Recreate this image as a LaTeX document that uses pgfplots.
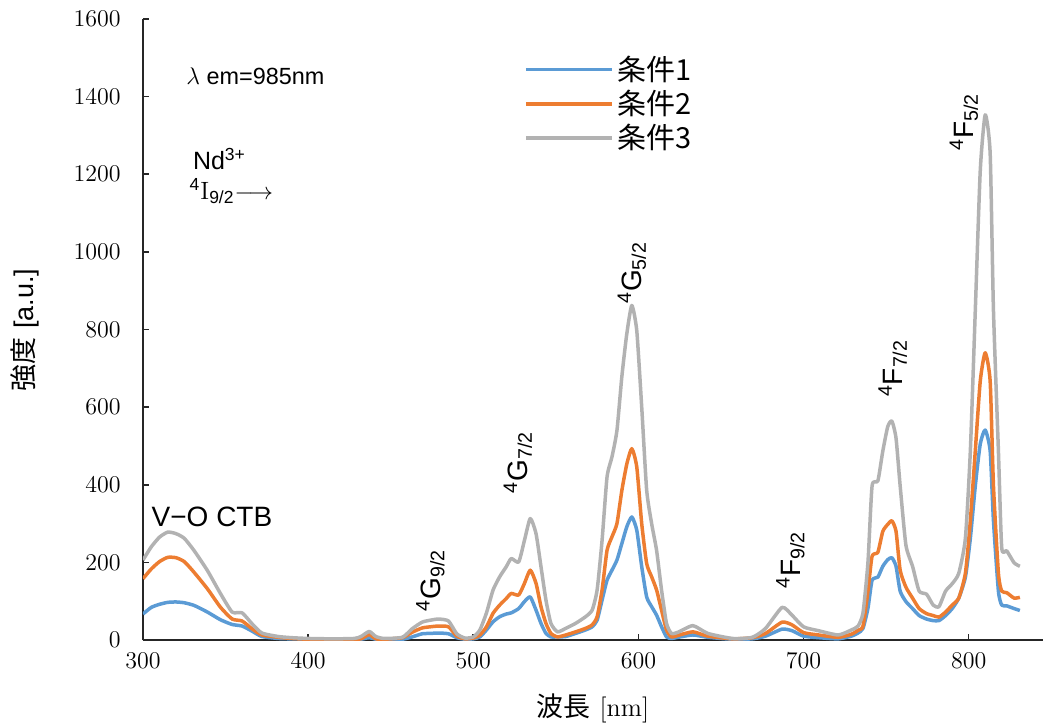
\documentclass[border=0pt]{standalone}
\usepackage{fontspec}
\setsansfont{Liberation Sans}
\newfontfamily\jp{Noto Sans CJK JP}
\usepackage{pgfplots}
\pgfplotsset{compat=1.18}
\usepackage{pgfplotstable}

\definecolor{c1}{RGB}{91,155,213}
\definecolor{c2}{RGB}{237,125,49}
\definecolor{c3}{RGB}{178,178,178}

% excitation spectra: wavelength [nm], condition 1, 2, 3
\pgfplotstableread{
x      b    o    g
300    67   158  206
305    84   183  240
310    92   202  265
315    97   213  278
320    98   212  274
325    96   202  262
331    89   174  230
339    72   132  179
347    52   84   119
354    40   54   72
360    36   49   70
366    23   29   42
372    9    13   18
382    4    7    9
390    3    4    6
400    2    2    4
415    1    1    3
428    2    2    4
432    2    3    9
437    6    14   22
441    2    3    9
446    1    2    4
457    2    6    7
463    8    20   29
469    16   31   46
474    17   34   51
479    18   36   54
485    16   34   49
490    6    10   16
495    2    3    5
500    3    5    8
504    8    13   26
508    26   34   70
512    47   69   129
516    60   90   163
520    67   107  189
523    70   120  210
527.5  81   116  201
531    99   146  257
534.5  111  180  313
538    77   146  274
541    43   86   189
544    17   43   103
547    8    17   43
551    8    8    21
556    9    13   30
562    17   21   43
568    26   30   60
572    34   39   77
575    51   60   129
578    103  129  257
581    154  231  420
584    180  266  472
587    206  300  540
590    249  386  680
593    292  454  790
596    317  493  862
599    283  446  797
602    189  300  600
605    111  197  386
608    86   163  300
611    64   129  231
614    34   77   129
617    8    26   43
620    4    8    17
624    7    12   20
633    13   21   37
642    7    10   17
657    2    3    4
669    3    6    7
677    10   17   30
687    28   46   84
693    24   39   64
700    10   19   34
709    6    13   24
721    3    7    13
729    10   15   26
733    18   25   36
736    30   36   70
739    82   126  200
741.5  154  216  397
745    162  226  410
748    190  280  487
751    207  298  550
753.5  212  307  564
756    190  280  520
758.5  126  180  397
762    99   136  244
766    81   108  190
770    63   81   126
774.5  54   68   118
778.5  50   63   90
782    50   59   86
786    63   72   126
790    81   90   145
794    108  108  172
798    162  172  262
801    262  307  487
804    397  487  849
807    505  667  1209
810    541  740  1353
813    487  667  1254
815    307  397  849
818    126  172  487
820    90   126  238
823    88   122  230
827.5  81   108  199
831    76   110  190
}\spec

\begin{document}
\begin{tikzpicture}
\begin{axis}[
  scale only axis, width=450pt, height=310.5pt,
  xmin=300, xmax=845, ymin=0, ymax=1600,
  axis x line=bottom, axis y line=left,
  axis line style={-, line width=1.1pt, color=black!85},
  tick align=inside, major tick length=3pt,
  tick style={line width=0.8pt, color=black!85},
  xtick={300,400,...,800}, ytick={0,200,...,1600},
  /pgf/number format/1000 sep={},
  ticklabel style={font=\fontsize{12.5}{14}\selectfont, inner sep=1pt},
  xticklabel style={yshift=-5.5pt},
  yticklabel style={xshift=-10pt},
  xlabel={{\jp 波長} {\fontsize{13}{15}\selectfont[nm]}},
  ylabel={{\jp 強度} {\sffamily [a.u.]}},
  label style={font=\fontsize{13.5}{15}\selectfont},
  xlabel style={at={(rel axis cs:0.5,-0.1095)}, anchor=center},
  ylabel style={at={(rel axis cs:-0.131,0.499)}, anchor=center},
  legend style={draw=none, fill=none, at={(rel axis cs:0.423,0.948)},
    anchor=north west, font=\jp\fontsize{14.5}{16}\selectfont,
    row sep=-0.5pt, inner sep=0pt},
  legend cell align=left,
  legend image code/.code={\draw[#1, line width=1.75pt] (0pt,0pt) -- (43pt,0pt);},
  every axis plot/.append style={line width=1.75pt, line join=round, mark=none, smooth, tension=0.35},
]
\addplot[c1] table[x=x, y=b] {\spec};
\addplot[c2] table[x=x, y=o] {\spec};
\addplot[c3] table[x=x, y=g] {\spec};
\legend{条件1, 条件2, 条件3}

\coordinate (bl) at (rel axis cs:0,0);
\coordinate (tr) at (rel axis cs:1,1);

\node[anchor=west, font=\sffamily\fontsize{11.7}{13}\selectfont] at (axis cs:322,1453) {$\lambda$ em=985nm};
\node[anchor=west, font=\sffamily\fontsize{12.5}{14}\selectfont] at (axis cs:326,1240) {Nd\textsuperscript{3+}};
\node[anchor=west, font=\sffamily\fontsize{12.5}{14}\selectfont] at (axis cs:324,1157) {\textsuperscript{4}{\rmfamily I}\textsubscript{9/2}$\longrightarrow$};
\node[anchor=west, font=\sffamily\fontsize{14}{16}\selectfont] at (axis cs:301,316) {V−O CTB};

\begin{scope}[every node/.style={rotate=90, font=\sffamily\fontsize{14}{16}\selectfont}]
\node at (axis cs:474,154) {\textsuperscript{4}G\textsubscript{9/2}};
\node at (axis cs:527,458) {\textsuperscript{4}G\textsubscript{7/2}};
\node at (axis cs:596,946) {\textsuperscript{4}G\textsubscript{5/2}};
\node at (axis cs:692,206) {\textsuperscript{4}F\textsubscript{9/2}};
\node at (axis cs:754,700) {\textsuperscript{4}F\textsubscript{7/2}};
\node at (axis cs:797,1335) {\textsuperscript{4}F\textsubscript{5/2}};
\end{scope}
\end{axis}
\pgfresetboundingbox
\path[use as bounding box] ([xshift=-71.5pt,yshift=-42pt]bl) rectangle ([yshift=9.5pt]tr);
\end{tikzpicture}
\end{document}
